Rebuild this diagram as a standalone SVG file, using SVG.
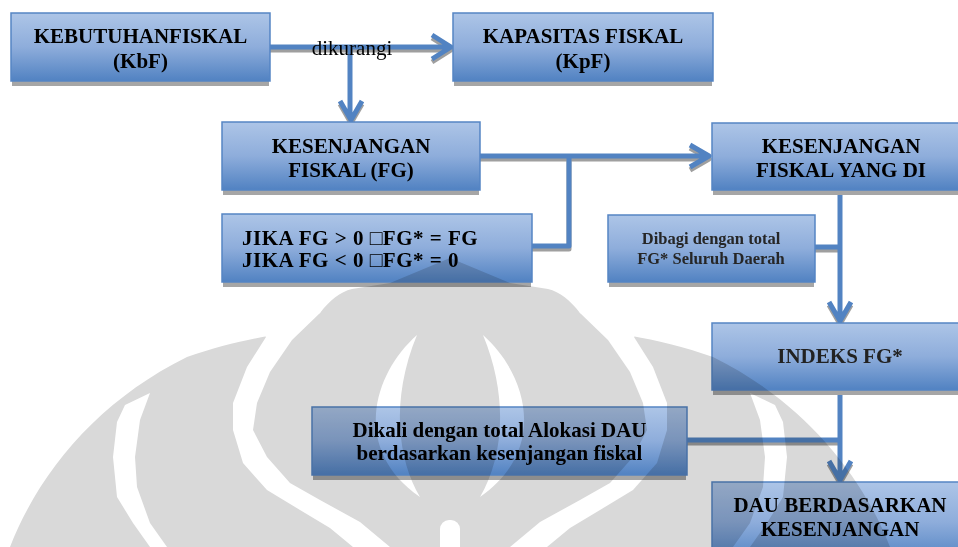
<svg xmlns="http://www.w3.org/2000/svg" width="958" height="547" viewBox="0 0 958 547">
<defs>
<linearGradient id="boxGrad" x1="0" y1="0" x2="0" y2="1">
<stop offset="0" stop-color="#adc5e7"/>
<stop offset="0.5" stop-color="#8eaddb"/>
<stop offset="1" stop-color="#5182c2"/>
</linearGradient>
</defs>
<style>
.box{fill:url(#boxGrad);stroke:#5585c4;stroke-width:1.5}
.shadow{fill:#a6a6a6}
.t{font-family:"Liberation Serif","Times New Roman",serif;font-weight:bold;font-size:21px;fill:#000;text-anchor:middle}
.ts{font-size:16.5px;fill:#262626}
.tj{letter-spacing:0.5px;text-anchor:start}
.line{fill:none;stroke:#5283c2;stroke-width:5;stroke-linejoin:round}
.lshadow{fill:none;stroke:#7f7f7f;stroke-width:5;stroke-linejoin:round;opacity:0.75}
.lbl{font-family:"Liberation Serif","Times New Roman",serif;font-size:21px;text-anchor:middle;fill:#000}
.wm{fill:#d9d9d9}
.wc{fill:#fff}
</style>

<g id="connectors">
<g transform="translate(0,3)">
<path class="lshadow" d="M270,47 H449 M432,35 L451,47 L432,59"/>
<path class="lshadow" d="M340,101 L351,120 L362,101"/>
<path class="lshadow" d="M480,156 H708 M690,145 L709,156 L690,167 M569,156 V246 H532"/>
<path class="lshadow" d="M815,247 H840 M829,302 L840,321 L851,302"/>
<path class="lshadow" d="M687,440 H840 M829,461 L840,480 L851,461"/>
</g>
<path class="line" d="M270,47 H449 M432,35 L451,47 L432,59"/>
<path class="line" d="M350,47 V119 M340,101 L351,120 L362,101"/>
<path class="line" d="M480,156 H708 M690,145 L709,156 L690,167 M569,156 V246 H532"/>
<path class="line" d="M840,190 V320 M815,247 H840 M829,302 L840,321 L851,302"/>
<path class="line" d="M840,390 V479 M687,440 H840 M829,461 L840,480 L851,461"/>
<text class="lbl" x="352" y="55">dikurangi</text>
</g>

<g id="kbf">
<rect class="shadow" x="12" y="17" width="257" height="69"/>
<rect class="box" x="11" y="13" width="259" height="68"/>
<text class="t" x="140.5" y="43">KEBUTUHANFISKAL</text>
<text class="t" x="140.5" y="68">(KbF)</text>
</g>

<g id="kpf">
<rect class="shadow" x="454" y="17" width="258" height="69"/>
<rect class="box" x="453" y="13" width="260" height="68"/>
<text class="t" x="583" y="43">KAPASITAS FISKAL</text>
<text class="t" x="583" y="68">(KpF)</text>
</g>

<g id="fg">
<rect class="shadow" x="223" y="126" width="256" height="69"/>
<rect class="box" x="222" y="122" width="258" height="68"/>
<text class="t" x="351" y="153">KESENJANGAN</text>
<text class="t" x="351" y="177">FISKAL (FG)</text>
</g>

<g id="jika">
<rect class="shadow" x="223" y="218" width="308" height="69"/>
<rect class="box" x="222" y="214" width="310" height="68"/>
<text class="t tj" x="242" y="245">JIKA FG &gt; 0 □FG* = FG</text>
<text class="t tj" x="242" y="267">JIKA FG &lt; 0 □FG* = 0</text>
</g>

<g id="fg-di">
<rect class="shadow" x="713" y="127" width="258" height="68"/>
<rect class="box" x="712" y="123" width="260" height="67"/>
<text class="t" x="841" y="153">KESENJANGAN</text>
<text class="t" x="841" y="177">FISKAL YANG DI</text>
</g>

<g id="dibagi">
<rect class="shadow" x="609" y="219" width="205" height="68"/>
<rect class="box" x="608" y="215" width="207" height="67"/>
<text class="t ts" x="711" y="244">Dibagi dengan total</text>
<text class="t ts" x="711" y="264">FG* Seluruh Daerah</text>
</g>

<g id="indeks">
<rect class="shadow" x="713" y="327" width="258" height="68"/>
<rect class="box" x="712" y="323" width="260" height="67"/>
<text class="t" x="840" y="363" style="fill:#222">INDEKS FG*</text>
</g>

<g id="dikali">
<rect class="shadow" x="313" y="411" width="373" height="69"/>
<rect class="box" x="312" y="407" width="375" height="68"/>
<text class="t" x="499.5" y="437">Dikali dengan total Alokasi DAU</text>
<text class="t" x="499.5" y="460">berdasarkan kesenjangan fiskal</text>
</g>

<g id="dau">
<rect class="box" x="712" y="482" width="260" height="80"/>
<text class="t" x="840" y="512">DAU BERDASARKAN</text>
<text class="t" x="840" y="536">KESENJANGAN</text>
</g>

<g id="watermark" style="mix-blend-mode:multiply">
<path class="wm" d="M10,547 C40,470 100,400 187,357 C215,347 245,340 268,336 L320,313 C330,300 340,292 352,289 L390,283 L450,258 L510,283 L548,289 C560,292 570,300 580,313 L632,336 C655,340 685,347 713,357 C800,400 860,470 890,547 Z"/>
<polygon class="wc" points="117,422 113,457 117,497 133,523 150,547 167,547 150,523 137,487 135,457 140,420 150,393 125,405"/>
<polygon class="wc" points="783,422 787,457 783,497 767,523 750,547 733,547 750,523 763,487 765,457 760,420 750,393 775,405"/>
<polygon class="wc" points="266,337 247,367 233,403 233,430 243,463 267,490 300,510 330,528 353,547 390,547 360,522 320,500 290,483 267,457 253,430 257,403 270,372 292,340 320,313 324,304 262,330"/>
<polygon class="wc" points="634,337 653,367 667,403 667,430 657,463 633,490 600,510 570,528 547,547 510,547 540,522 580,500 610,483 633,457 647,430 643,403 630,372 608,340 580,313 576,304 638,330"/>
<path class="wc" d="M417,335 C372,375 352,450 420,497 C398,460 390,400 417,335 Z"/>
<path class="wc" d="M483,335 C528,375 548,450 480,497 C502,460 510,400 483,335 Z"/>
<rect class="wc" x="440" y="520" width="20" height="35" rx="9"/>
</g>
</svg>
